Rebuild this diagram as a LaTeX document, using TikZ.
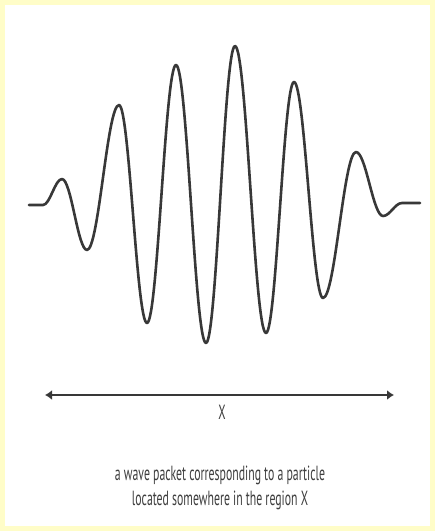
\documentclass[tikz,border=0pt]{standalone}
\usepackage{fontspec}
\usepackage{tikz}
\usetikzlibrary{
  arrows.meta,
  positioning
}
\newfontfamily\wpfont[FakeStretch=0.575]{PT Sans}
\definecolor{wpFrame}{HTML}{FFFDC8}
\definecolor{wpInk}{HTML}{383838}
\definecolor{wpText}{HTML}{3F3F3F}
\tikzset{
  wave/.style={line width=2.6pt, wpInk, line join=round, line cap=round},
  span/.style={{Latex[length=7pt,width=10pt]}-{Latex[length=7pt,width=10pt]}, line width=2pt, wpInk},
  lbl/.style={font=\wpfont\fontsize{20.5}{25}\selectfont, text=wpText, inner sep=0pt},
  caption/.style={lbl, align=center}
}

\begin{document}
\begin{tikzpicture}[x=1pt, y=-1pt]
  \useasboundingbox (0,0) rectangle (435,531);
  \fill[wpFrame] (0,0) rectangle (435,531);
  \fill[white] (5,5) rectangle (430,526);
  % wave packet, one cubic per half period
  \draw[wave] (29,205) -- (43,205)
    \foreach \x/\y [remember=\x as \px (initially 43)] in
      {62/179, 87/250, 119/105, 147/323, 176/65, 206/343, 235/46,
       266/333, 294/82, 323/298, 356/152, 383/216, 402/203}
      { .. controls +({0.37*(\x-\px)},0) and +({-0.37*(\x-\px)},0) .. (\x,\y) }
    -- (420,203);
  \coordinate (left) at (45,395);
  \coordinate (right) at (394,395);
  \draw[span] (left) -- (right);
  \node[lbl] (region) at (222,412) {X};
  \node[caption, anchor=base] (note) at (220,505)
    {a wave packet corresponding to a particle\\located somewhere in the region X};
\end{tikzpicture}
\end{document}
